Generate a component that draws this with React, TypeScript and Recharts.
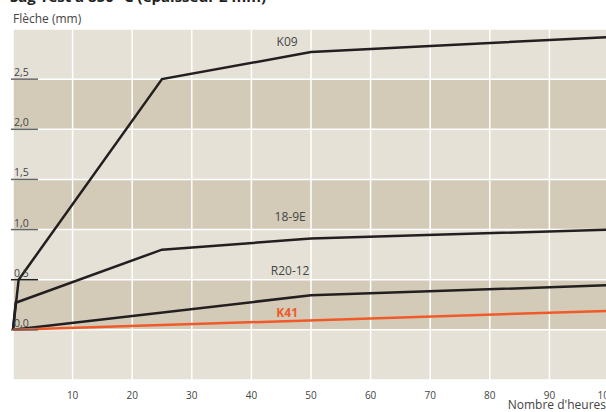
import { CartesianGrid, Line, LineChart, ReferenceDot, XAxis, YAxis } from "recharts";

const hourTicks = [0, 10, 20, 30, 40, 50, 60, 70, 80, 90, 100];
const sagTicks = [-0.5, 0, 0.5, 1, 1.5, 2, 2.5, 3];
const labelledSag = [0, 0.5, 1, 1.5, 2, 2.5];

const k09Hours = [0, 0.95, 25, 50, 100];
const k09Sag = [0, 0.5, 2.5, 2.77, 2.92];
const e189Hours = [0, 0.45, 25, 50, 100];
const e189Sag = [0, 0.27, 0.8, 0.91, 1.0];
const r2012Hours = [0, 50, 100];
const r2012Sag = [0, 0.345, 0.445];
const k41Hours = [0, 100];
const k41Sag = [0, 0.19];

const toRows = (hours: number[], sag: number[]) => hours.map((h, i) => ({ h, v: sag[i] }));

const series = [
  { name: "K09", rows: toRows(k09Hours, k09Sag), color: "#231f20", lx: 46, ly: 2.87, bold: false },
  { name: "18-9E", rows: toRows(e189Hours, e189Sag), color: "#231f20", lx: 46.5, ly: 1.13, bold: false },
  { name: "R20-12", rows: toRows(r2012Hours, r2012Sag), color: "#231f20", lx: 46.5, ly: 0.59, bold: false },
  { name: "K41", rows: toRows(k41Hours, k41Sag), color: "#f05a28", lx: 46, ly: 0.17, bold: true },
];

const font = "'Open Sans', 'DejaVu Sans', sans-serif";
const textGrey = "#444";

function SagTick(props: any) {
  const { y, payload } = props;
  if (!labelledSag.includes(payload.value)) return <g />;
  return (
    <g>
      <line x1={11} x2={38} y1={y} y2={y} stroke={payload.value === 0.5 ? "#222" : "#666"} strokeWidth={1.5} />
      <text x={14} y={y - 3} fontSize={10.5} fill={textGrey} fontFamily={font}>
        {payload.value.toFixed(1).replace(".", ",")}
      </text>
    </g>
  );
}

function HourTick(props: any) {
  const { x, payload } = props;
  if (payload.value === 0) return <g />;
  return (
    <text x={payload.value === 100 ? x - 3 : x} y={399} textAnchor="middle" fontSize={10} fill={textGrey} fontFamily={font}>
      {payload.value}
    </text>
  );
}

export default function App() {
  return (
    <div style={{ position: "absolute", left: 0, top: 0, width: 606, height: 412, overflow: "hidden", background: "#fff", fontFamily: font }}>
      <div style={{ position: "absolute", left: 10, top: -14, fontSize: 15, fontWeight: 700, color: "#222", whiteSpace: "nowrap" }}>
        Sag Test à 850 °C (épaisseur 2 mm)
      </div>
      <div style={{ position: "absolute", left: 13, top: 10, fontSize: 12, color: textGrey }}>Flèche (mm)</div>
      <div style={{ position: "absolute", right: 0, top: 396, fontSize: 12, color: textGrey, whiteSpace: "nowrap" }}>Nombre d'heures</div>
      <LineChart width={640} height={412} margin={{ top: 29, right: 31, bottom: 0, left: 12 }}>
        <CartesianGrid horizontalFill={["#e5e1d7", "#d3cbb8"]} stroke="none" />
        <CartesianGrid stroke="#ffffff" strokeWidth={1.5} fill="none" />
        <XAxis dataKey="h" type="number" domain={[0, 100]} ticks={hourTicks} height={32} axisLine={false} tickLine={false} interval={0} tick={<HourTick />} />
        <YAxis type="number" domain={[-0.5, 3]} ticks={sagTicks} width={1} axisLine={false} tickLine={false} interval={0} tick={<SagTick />} />
        {series.map((s) => (
          <Line key={s.name} data={s.rows} dataKey="v" type="linear" stroke={s.color} strokeWidth={2.5} dot={false} activeDot={false} isAnimationActive={false} />
        ))}
        {series.map((s) => (
          <ReferenceDot
            key={"l" + s.name}
            x={s.lx}
            y={s.ly}
            r={0}
            fill="none"
            stroke="none"
            label={{ value: s.name, position: "center", fill: s.bold ? s.color : textGrey, fontSize: 12, fontWeight: s.bold ? 700 : 400, fontFamily: font }}
          />
        ))}
      </LineChart>
    </div>
  );
}
